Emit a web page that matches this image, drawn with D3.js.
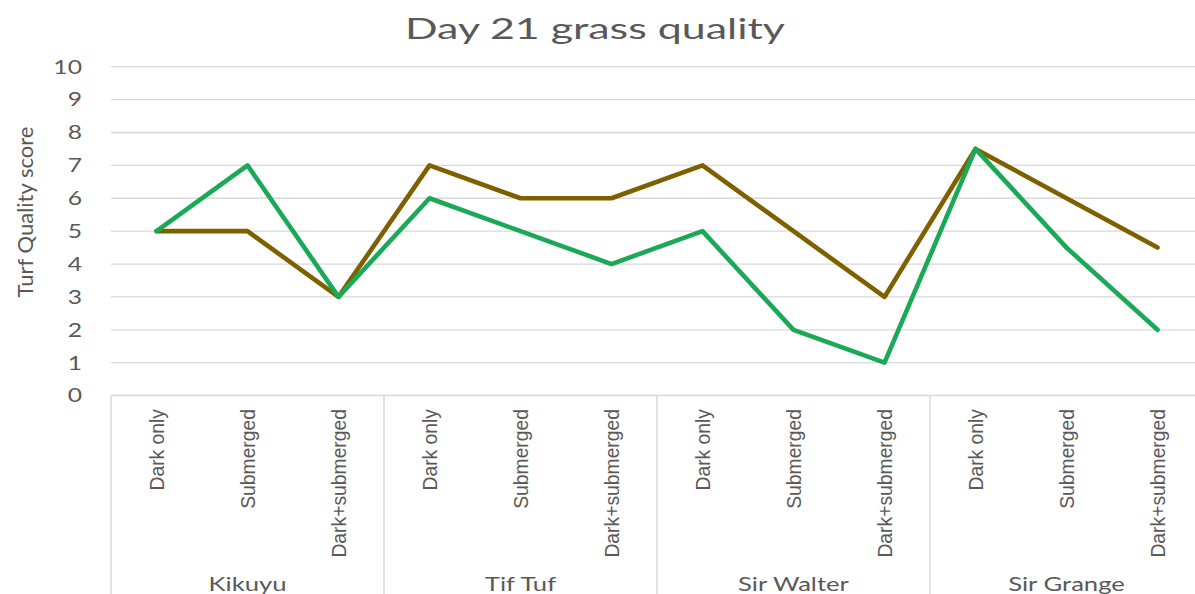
<!DOCTYPE html>
<html><head><meta charset="utf-8">
<script src="https://cdn.jsdelivr.net/npm/d3@7"></script>
<style>body{margin:0;background:#fff}svg{display:block}</style>
</head><body>
<svg id="c" width="1195" height="594"></svg>
<script>
const groups = ["Kikuyu", "Tif Tuf", "Sir Walter", "Sir Grange"];
const treatments = ["Dark only", "Submerged", "Dark+submerged"];
const seriesBrown = [5, 5, 3, 7, 6, 6, 7, 5, 3, 7.5, 6, 4.5];
const seriesGreen = [5, 7, 3, 6, 5, 4, 5, 2, 1, 7.5, 4.5, 2];
const yTicks = [0,1,2,3,4,5,6,7,8,9,10];
const titleText = "Day 21 grass quality";
const yTitle = "Turf Quality score";

(function(){
const svg = d3.select("#c");
const pLeft = 111, pRight = 1203, pTop = 66.7, pBottom = 395.6;
const cats = [];
groups.forEach((g,gi)=>treatments.forEach((t,ti)=>cats.push({g,t,key:gi+"-"+ti})));
const x = d3.scaleBand().domain(cats.map(d=>d.key)).range([pLeft,pRight]).padding(0);
const xg = d3.scaleBand().domain(groups).range([pLeft,pRight]).padding(0);
const y = d3.scaleLinear().domain([0,10]).range([pBottom,pTop]);
const cx = i => x(cats[i].key) + x.bandwidth()/2;
const txt = "#595959", grid = "#d9d9d9";

svg.append("g").selectAll("line").data(yTicks.filter(d=>d>0)).join("line")
  .attr("x1",pLeft).attr("x2",1195).attr("y1",d=>y(d)).attr("y2",d=>y(d))
  .attr("stroke",grid).attr("stroke-width",1.3);

svg.append("g").selectAll("text").data(yTicks).join("text")
  .attr("transform",d=>`translate(82,${y(d)+6.8}) scale(1.3,1)`).attr("text-anchor","end")
  .attr("font-family","Lato, sans-serif").attr("font-size",19).attr("fill",txt)
  .text(d=>d);

svg.append("line").attr("x1",pLeft).attr("x2",1195).attr("y1",pBottom).attr("y2",pBottom)
  .attr("stroke",grid).attr("stroke-width",1.5);
svg.append("g").selectAll("line").data(groups.concat(["end"])).join("line")
  .attr("x1",(d,i)=>pLeft+i*xg.bandwidth()).attr("x2",(d,i)=>pLeft+i*xg.bandwidth())
  .attr("y1",pBottom).attr("y2",594).attr("stroke",grid).attr("stroke-width",1.5);

svg.append("g").selectAll("text").data(cats).join("text")
  .attr("transform",(d,i)=>`translate(${cx(i)+7.5},409) rotate(-90) scale(0.92,1)`)
  .attr("text-anchor","end")
  .attr("font-family","'Liberation Sans', sans-serif")
  .attr("font-size",21).attr("fill",txt)
  .text(d=>d.t);

svg.append("g").selectAll("text").data(groups).join("text")
  .attr("transform",d=>`translate(${xg(d)+xg.bandwidth()/2},591) scale(1.35,1)`).attr("text-anchor","middle")
  .attr("font-family","Lato, sans-serif").attr("font-size",19).attr("fill",txt)
  .text(d=>d);

const line = d3.line().x((d,i)=>cx(i)).y(d=>y(d));
svg.append("path").datum(seriesBrown).attr("d",line).attr("fill","none")
  .attr("stroke","#7f6000").attr("stroke-width",4.6).attr("stroke-linejoin","round").attr("stroke-linecap","round");
svg.append("path").datum(seriesGreen).attr("d",line).attr("fill","none")
  .attr("stroke","#1aa956").attr("stroke-width",4.6).attr("stroke-linejoin","round").attr("stroke-linecap","round");

svg.append("text").attr("transform","translate(595,39) scale(1.48,1)").attr("text-anchor","middle")
  .attr("font-family","Lato, sans-serif").attr("font-size",29).attr("fill",txt).text(titleText);
svg.append("text").attr("transform","translate(33,212) rotate(-90)").attr("text-anchor","middle")
  .attr("font-family","Lato, sans-serif").attr("font-size",22).attr("fill",txt).text(yTitle);
})();
</script>
</body></html>
